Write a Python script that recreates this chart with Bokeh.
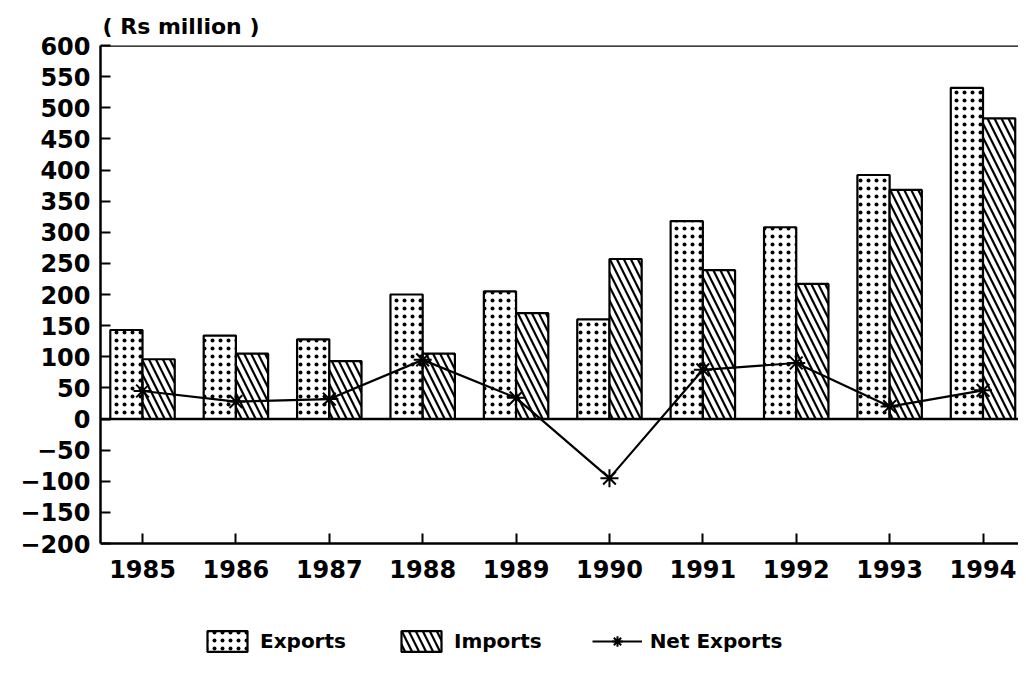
from bokeh.plotting import figure
from bokeh.models import ColumnDataSource, FixedTicker, Span, Legend, LegendItem
from bokeh.embed import file_html
from bokeh.resources import INLINE

years = ["1985", "1986", "1987", "1988", "1989", "1990", "1991", "1992", "1993", "1994"]
exports = [143, 134, 128, 200, 205, 160, 318, 308, 392, 532]
imports = [96, 105, 93, 105, 170, 257, 239, 217, 368, 483]
net_exports = [45, 28, 32, 95, 34, -95, 79, 90, 20, 46]
y_ticks = list(range(-200, 601, 50))

FONT = "DejaVu Sans"
idx = list(range(len(years)))
bw = 0.345
src = ColumnDataSource(dict(
    x=idx,
    xe=[i - bw / 2 for i in idx],
    xi=[i + bw / 2 for i in idx],
    exports=exports, imports=imports, net=net_exports,
))

H = 670
TOP = 45
AXIS_Y = 543
px_per_unit = (AXIS_Y - TOP) / (y_ticks[-1] - y_ticks[0])
y_start = y_ticks[0] - (H - AXIS_Y) / px_per_unit

p = figure(width=1018, height=H, output_backend="svg", toolbar_location=None,
           x_range=(-0.45, 9.38), y_range=(y_start, y_ticks[-1]),
           min_border_left=100, min_border_right=0, min_border_top=TOP, min_border_bottom=0)
p.outline_line_color = None
p.grid.grid_line_color = None
p.background_fill_color = "white"
p.border_fill_color = "white"

p.title.text = "( Rs million )"
p.title.text_font = FONT
p.title.text_font_size = "22px"
p.title.text_font_style = "bold"
p.title.text_color = "black"
p.title.offset = 2
p.title.standoff = 14

rb_e = p.vbar(x="xe", top="exports", bottom=0, width=bw, source=src,
              fill_color="white", line_color="black", line_width=2.2,
              hatch_pattern="dot", hatch_color="black", hatch_scale=8, hatch_weight=1.0)
rb_i = p.vbar(x="xi", top="imports", bottom=0, width=bw, source=src,
              fill_color="white", line_color="black", line_width=2.2,
              hatch_pattern="left_diagonal_line", hatch_color="black", hatch_scale=14, hatch_weight=2.2)

p.add_layout(Span(location=0, dimension="width", line_color="black", line_width=2.5))
p.add_layout(Span(location=y_ticks[-1], dimension="width", line_color="black", line_width=2.5))

rl = p.line(x="x", y="net", source=src, line_color="black", line_width=2.2)
rs = p.scatter(x="x", y="net", source=src, marker="asterisk", size=18,
               line_color="black", line_width=2)

p.yaxis.ticker = FixedTicker(ticks=y_ticks)
p.yaxis.bounds = (y_ticks[0], y_ticks[-1])
p.xaxis.ticker = FixedTicker(ticks=idx)
p.xaxis.fixed_location = y_ticks[0]
p.xaxis.major_label_overrides = {i: y for i, y in zip(idx, years)}
for ax in (p.xaxis[0], p.yaxis[0]):
    ax.axis_line_width = 2.5
    ax.major_tick_line_width = 2
    ax.major_tick_in = 10
    ax.major_tick_out = 0
    ax.minor_tick_line_color = None
    ax.major_label_text_font = FONT
    ax.major_label_text_font_style = "bold"
    ax.major_label_text_font_size = "24px"
    ax.major_label_text_color = "black"
p.yaxis.major_label_standoff = 10
p.xaxis.major_label_standoff = 16

legend = Legend(items=[
    LegendItem(label="Exports", renderers=[rb_e]),
    LegendItem(label="Imports", renderers=[rb_i]),
    LegendItem(label="Net Exports", renderers=[rl, rs]),
], orientation="horizontal", location=(102, 16),
    glyph_width=50, glyph_height=26, spacing=50, label_standoff=8,
    label_text_font=FONT, label_text_font_style="bold", label_text_font_size="20px",
    label_text_color="black",
    border_line_color=None, background_fill_alpha=0, margin=0, padding=4)
p.add_layout(legend, "center")

open("out.html", "w").write(file_html(p, INLINE))
